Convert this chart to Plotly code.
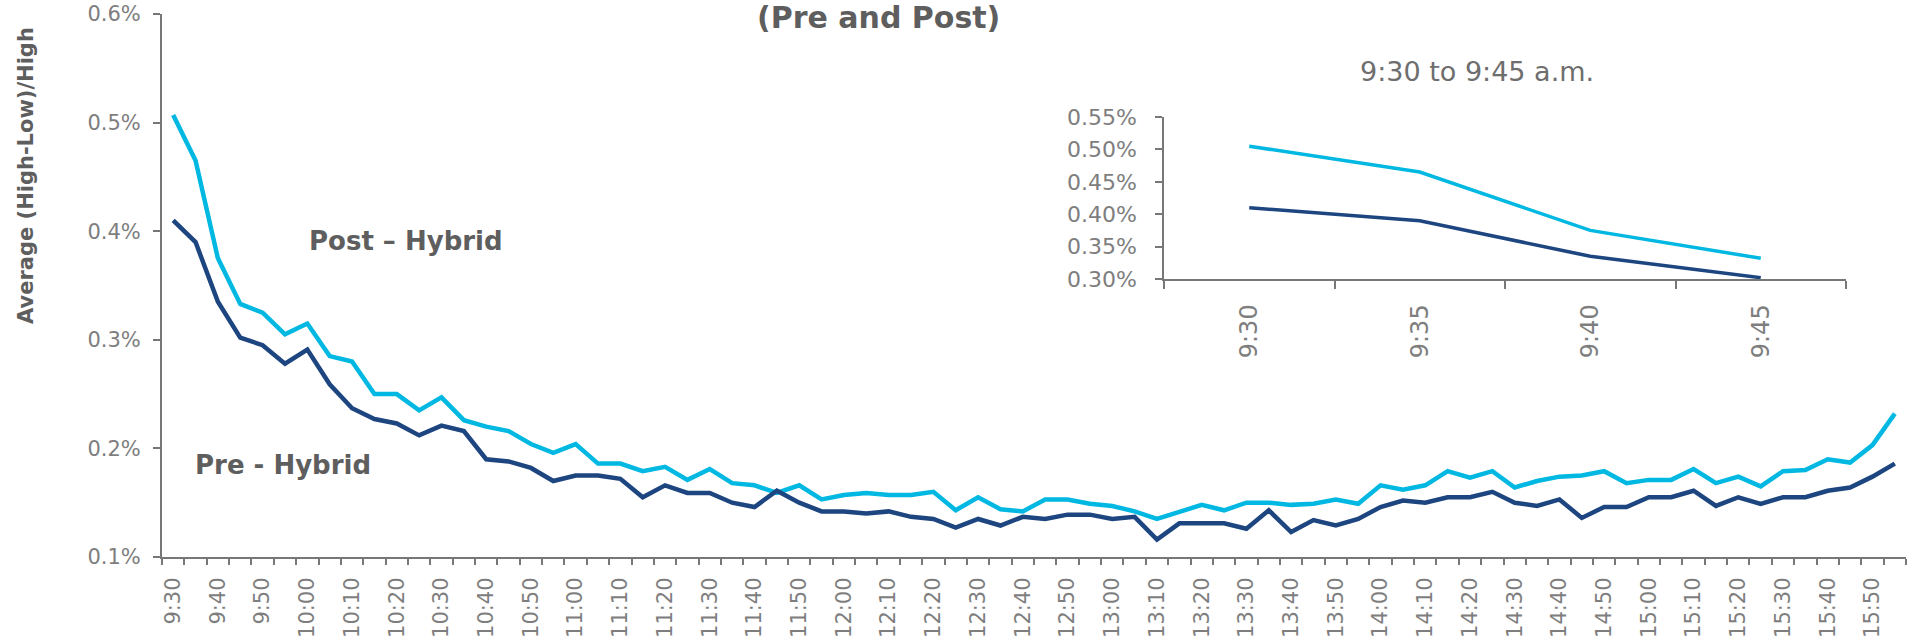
import plotly.graph_objects as go

# ---------------- data ----------------
times = ["9:30", "9:35", "9:40", "9:45", "9:50", "9:55",
         "10:00", "10:05", "10:10", "10:15", "10:20", "10:25", "10:30", "10:35", "10:40", "10:45", "10:50", "10:55",
         "11:00", "11:05", "11:10", "11:15", "11:20", "11:25", "11:30", "11:35", "11:40", "11:45", "11:50", "11:55",
         "12:00", "12:05", "12:10", "12:15", "12:20", "12:25", "12:30", "12:35", "12:40", "12:45", "12:50", "12:55",
         "13:00", "13:05", "13:10", "13:15", "13:20", "13:25", "13:30", "13:35", "13:40", "13:45", "13:50", "13:55",
         "14:00", "14:05", "14:10", "14:15", "14:20", "14:25", "14:30", "14:35", "14:40", "14:45", "14:50", "14:55",
         "15:00", "15:05", "15:10", "15:15", "15:20", "15:25", "15:30", "15:35", "15:40", "15:45", "15:50", "15:55"]

# values in percent
post_hybrid = [0.507, 0.465, 0.375, 0.333, 0.325, 0.305, 0.315, 0.285, 0.280, 0.250,
               0.250, 0.235, 0.247, 0.226, 0.220, 0.216, 0.204, 0.196, 0.204, 0.186,
               0.186, 0.179, 0.183, 0.171, 0.181, 0.168, 0.166, 0.159, 0.166, 0.153,
               0.157, 0.159, 0.157, 0.157, 0.160, 0.143, 0.155, 0.144, 0.142, 0.153,
               0.153, 0.149, 0.147, 0.142, 0.135, 0.142, 0.148, 0.143, 0.150, 0.150,
               0.148, 0.149, 0.153, 0.149, 0.166, 0.162, 0.166, 0.179, 0.173, 0.179,
               0.164, 0.170, 0.174, 0.175, 0.179, 0.168, 0.171, 0.171, 0.181, 0.168,
               0.174, 0.165, 0.179, 0.180, 0.190, 0.187, 0.203, 0.232]

pre_hybrid = [0.410, 0.390, 0.335, 0.302, 0.295, 0.278, 0.291, 0.259, 0.237, 0.227,
              0.223, 0.212, 0.221, 0.216, 0.190, 0.188, 0.182, 0.170, 0.175, 0.175,
              0.172, 0.155, 0.166, 0.159, 0.159, 0.150, 0.146, 0.161, 0.150, 0.142,
              0.142, 0.140, 0.142, 0.137, 0.135, 0.127, 0.135, 0.129, 0.137, 0.135,
              0.139, 0.139, 0.135, 0.137, 0.116, 0.131, 0.131, 0.131, 0.126, 0.143,
              0.123, 0.134, 0.129, 0.135, 0.146, 0.152, 0.150, 0.155, 0.155, 0.160,
              0.150, 0.147, 0.153, 0.136, 0.146, 0.146, 0.155, 0.155, 0.161, 0.147,
              0.155, 0.149, 0.155, 0.155, 0.161, 0.164, 0.174, 0.186]

x_tick_labels = ["9:30", "9:40", "9:50", "10:00", "10:10", "10:20", "10:30", "10:40", "10:50",
                 "11:00", "11:10", "11:20", "11:30", "11:40", "11:50", "12:00", "12:10", "12:20",
                 "12:30", "12:40", "12:50", "13:00", "13:10", "13:20", "13:30", "13:40", "13:50",
                 "14:00", "14:10", "14:20", "14:30", "14:40", "14:50", "15:00", "15:10", "15:20",
                 "15:30", "15:40", "15:50"]

inset_times = ["9:30", "9:35", "9:40", "9:45"]
inset_post = [0.505, 0.465, 0.375, 0.332]
inset_pre = [0.410, 0.390, 0.335, 0.302]

# ---------------- style ----------------
W, H = 1907, 639
L, R, T, B = 162, 1, 14, 82
PW, PH = W - L - R, H - T - B
CYAN = "#00B8E2"
NAVY = "#1D4580"
AXIS = "#777777"
TICKC = "#7E7E7E"
LABC = "#5E5E5E"
FONT = "DejaVu Sans"


def px_x(x):
    return (x - L) / PW


def px_y(y):
    return (H - B - y) / PH


ticktext = [t if t in x_tick_labels else "" for t in times]

fig = go.Figure()
fig.add_trace(go.Scatter(x=times, y=post_hybrid, mode="lines", name="Post - Hybrid",
                         line=dict(color=CYAN, width=4.5), xaxis="x", yaxis="y"))
fig.add_trace(go.Scatter(x=times, y=pre_hybrid, mode="lines", name="Pre - Hybrid",
                         line=dict(color=NAVY, width=4.5), xaxis="x", yaxis="y"))
fig.add_trace(go.Scatter(x=inset_times, y=inset_post, mode="lines", showlegend=False,
                         line=dict(color=CYAN, width=3.5), xaxis="x2", yaxis="y2"))
fig.add_trace(go.Scatter(x=inset_times, y=inset_pre, mode="lines", showlegend=False,
                         line=dict(color=NAVY, width=3.5), xaxis="x2", yaxis="y2"))

fig.update_layout(
    width=W, height=H,
    margin=dict(l=L, r=R, t=T, b=B, pad=0),
    paper_bgcolor="white", plot_bgcolor="white",
    showlegend=False,
    font=dict(family=FONT, color=TICKC),
    xaxis=dict(type="category", categoryorder="array", categoryarray=times,
               range=[-0.5, len(times) - 0.5], tickmode="array", tickvals=times, ticktext=ticktext,
               tickson="boundaries", ticks="outside", ticklen=6, tickwidth=1.5, tickcolor=AXIS,
               showline=True, linecolor=AXIS, linewidth=2, showgrid=False, zeroline=False,
               tickangle=-90, tickfont=dict(family=FONT, size=21, color=TICKC),
               ticklabelstandoff=10, automargin=False, fixedrange=True),
    yaxis=dict(range=[0.1, 0.6], dtick=0.1, tick0=0.1, tickformat=".1f", ticksuffix="%",
               ticks="outside", ticklen=7, tickwidth=1.5, tickcolor=AXIS,
               showline=True, linecolor=AXIS, linewidth=2, showgrid=False, zeroline=False,
               tickfont=dict(family=FONT, size=21, color=TICKC),
               ticklabelstandoff=8, automargin=False, fixedrange=True),
    xaxis2=dict(type="category", categoryorder="array", categoryarray=inset_times,
                domain=[px_x(1164), px_x(1846)], anchor="y2",
                range=[-0.5, len(inset_times) - 0.5], tickson="boundaries",
                ticks="outside", ticklen=8, tickwidth=1.5, tickcolor=AXIS,
                showline=True, linecolor=AXIS, linewidth=1.5, showgrid=False, zeroline=False,
                tickangle=-90, tickfont=dict(family=FONT, size=24, color=TICKC),
                ticklabelstandoff=14, automargin=False, fixedrange=True),
    yaxis2=dict(domain=[px_y(279), px_y(117)], anchor="x2",
                range=[0.30, 0.55], dtick=0.05, tick0=0.30, tickformat=".2f", ticksuffix="%",
                ticks="outside", ticklen=7, tickwidth=1.5, tickcolor=AXIS,
                showline=True, linecolor=AXIS, linewidth=1.5, showgrid=False, zeroline=False,
                tickfont=dict(family=FONT, size=22, color=TICKC),
                ticklabelstandoff=14, automargin=False, fixedrange=True),
    annotations=[
        dict(text="<b>(Pre and Post)</b>", xref="paper", yref="paper",
             x=px_x(878), y=px_y(18), xanchor="center", yanchor="middle", showarrow=False,
             font=dict(family=FONT, size=30, color=LABC)),
        dict(text="<b>Average (High-Low)/High</b>", xref="paper", yref="paper",
             x=px_x(26), y=px_y(176), xanchor="center", yanchor="middle", showarrow=False,
             textangle=-90, font=dict(family=FONT, size=21, color=LABC)),
        dict(text="<b>Post – Hybrid</b>", xref="paper", yref="paper",
             x=px_x(406), y=px_y(241), xanchor="center", yanchor="middle", showarrow=False,
             font=dict(family=FONT, size=26, color=LABC)),
        dict(text="<b>Pre - Hybrid</b>", xref="paper", yref="paper",
             x=px_x(283), y=px_y(465), xanchor="center", yanchor="middle", showarrow=False,
             font=dict(family=FONT, size=26, color=LABC)),
        dict(text="9:30 to 9:45 a.m.", xref="paper", yref="paper",
             x=px_x(1477), y=px_y(72), xanchor="center", yanchor="middle", showarrow=False,
             font=dict(family=FONT, size=27, color="#6E6E6E")),
    ],
)

fig.write_html("out.html", config={"displayModeBar": False},
               post_script="document.body.style.margin='0px';")
